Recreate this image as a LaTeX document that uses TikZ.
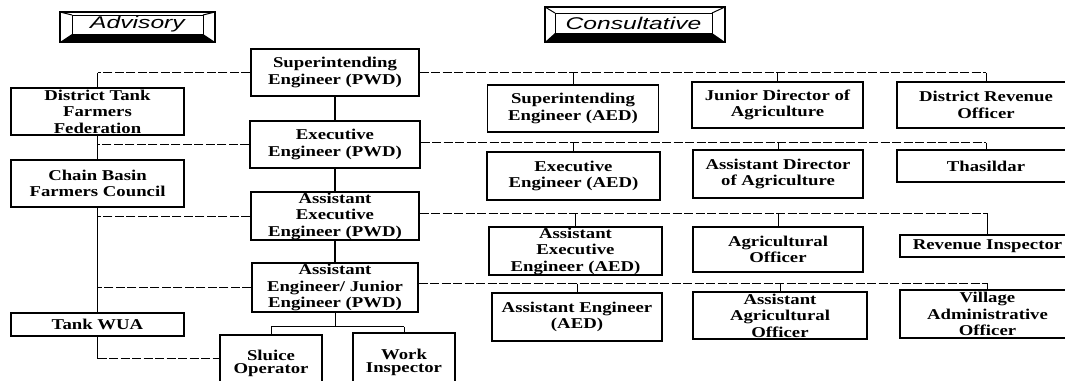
\documentclass[tikz,border=0pt]{standalone}
\usepackage{fontspec}
\newfontfamily\boxfont[FakeStretch=1.25]{Liberation Serif}
\newfontfamily\btnfont[FakeStretch=1.45]{Liberation Sans}
\begin{document}
\begin{tikzpicture}[x=1pt,y=-1pt,
  box/.style={draw, line width=1.2pt, align=center, inner sep=0pt,
    font=\boxfont\bfseries\fontsize{15}{16.5}\selectfont},
  rel/.style={line width=0.8pt, dash pattern=on 9pt off 2.5pt},
  chain/.style={line width=1.8pt},
  drop/.style={line width=1pt},
  btn/.style={inner sep=0pt, font=\btnfont\itshape\fontsize{17}{17}\selectfont},
  bevelout/.style={line width=2.2pt},
  bevelin/.style={line width=1pt}]
\clip (0,0) rectangle (1065,380);
\fill[white] (0,0) rectangle (1065,380);

% ---- Advisory button ----
\fill[black] (60,42) -- (72,34) -- (203,34) -- (215,42) -- cycle;
\draw[bevelin] (60,12) -- (72,15) (215,12) -- (203,15);
\draw[bevelout] (60,12) rectangle (215,42);
\draw[bevelin] (72,15) rectangle (203,34);
\node[btn] (advisory) at (137.5,24.5) {Advisory};

% ---- Consultative button ----
\fill[black] (545,42) -- (555,33) -- (712,33) -- (725,42) -- cycle;
\draw[bevelin] (545,7) -- (555,13) (725,7) -- (712,13);
\draw[bevelout] (545,7) rectangle (725,42);
\draw[bevelin] (555,13) rectangle (712,33);
\node[btn] (consultative) at (633.5,23) {Consultative};

% ---- PWD chain ----
\node[box, minimum width=168pt, minimum height=47pt] (spwd) at (335,72.5) {Superintending\\Engineer (PWD)};
\node[box, minimum width=170pt, minimum height=47pt] (epwd) at (335,144.5) {Executive\\Engineer (PWD)};
\node[box, minimum width=168pt, minimum height=48pt] (aepwd) at (335,216) {Assistant\\Executive\\Engineer (PWD)};
\node[box, minimum width=166pt, minimum height=49pt] (ajpwd) at (335,287.5) {Assistant\\Engineer/ Junior\\Engineer (PWD)};
\node[box, minimum width=102pt, minimum height=60pt] (sluice) at (271,365) {\raisebox{6pt}{\shortstack{Sluice\\Operator}}};
\node[box, minimum width=102pt, minimum height=62pt] (work) at (404,364) {\raisebox{6pt}{\shortstack{Work\\Inspector}}};

% ---- Advisory column ----
\node[box, minimum width=173pt, minimum height=47pt] (dtf) at (97.5,111.5) {District Tank\\Farmers\\Federation};
\node[box, minimum width=173pt, minimum height=47pt] (cbf) at (97.5,183.5) {Chain Basin\\Farmers Council};
\node[box, minimum width=173pt, minimum height=23pt] (wua) at (97.5,324.5) {Tank WUA};

% ---- Consultative columns ----
\node[box, minimum width=171pt, minimum height=47pt] (seaed) at (573,108.5) {Superintending\\Engineer (AED)};
\node[box, minimum width=171pt, minimum height=46pt] (jda) at (777.5,105) {Junior Director of\\Agriculture};
\node[box, minimum width=178pt, minimum height=46pt] (dro) at (986,105) {District Revenue\\Officer};

\node[box, minimum width=173pt, minimum height=48pt] (eeaed) at (573.5,176) {Executive\\Engineer (AED)};
\node[box, minimum width=170pt, minimum height=48pt] (ada) at (778,174) {Assistant Director\\of Agriculture};
\node[box, minimum width=178pt, minimum height=32pt] (tha) at (986,166) {Thasildar};

\node[box, minimum width=173pt, minimum height=48pt] (aeaed) at (575.5,251) {Assistant\\Executive\\Engineer (AED)};
\node[box, minimum width=170pt, minimum height=45pt] (ao) at (778,249.5) {Agricultural\\Officer};
\node[box, minimum width=175pt, minimum height=22pt] (ri) at (987.5,246) {Revenue Inspector};

\node[box, minimum width=170pt, minimum height=48pt] (aeng) at (577,317) {Assistant Engineer\\(AED)};
\node[box, minimum width=174pt, minimum height=47pt] (aao) at (780,315.5) {Assistant\\Agricultural\\Officer};
\node[box, minimum width=175pt, minimum height=48pt] (vao) at (987.5,314) {Village\\Administrative\\Officer};

% ---- solid hierarchy lines ----
\draw[chain] (spwd.south) -- (epwd.north);
\draw[chain] (epwd.south) -- (aepwd.north);
\draw[chain] (aepwd.south) -- (ajpwd.north);
\draw[drop] (ajpwd.south) -- ++(0,14) coordinate (br);
\draw[drop] (br -| sluice.north) -- (br -| work.north);
\draw[drop] (br -| sluice.north) -- (sluice.north);
\draw[drop] (br -| work.north) -- (work.north);

\draw[chain] (dtf.south) -- (cbf.north);
\draw[chain] (cbf.south) -- (wua.north);
\draw[chain] (wua.south) -- ++(0,22) coordinate (wb);
\draw[rel] (wb) -- (wb -| sluice.west);

% ---- advisory relations ----
\draw[rel] (spwd.west) -- (spwd.west -| dtf.north);
\draw[drop] (spwd.west -| dtf.north) -- (dtf.north);
\draw[rel] (epwd.west) -- (epwd.west -| dtf.south);
\draw[rel] (aepwd.west) -- (aepwd.west -| cbf.south);
\draw[rel] (ajpwd.west) -- (ajpwd.west -| cbf.south);

% ---- consultative relations ----
\draw[rel] (spwd.east) -- (spwd.east -| dro.north);
\draw[drop] (spwd.east -| seaed.north) -- (seaed.north);
\draw[drop] (spwd.east -| jda.north) -- (jda.north);
\draw[drop] (spwd.east -| dro.north) -- (dro.north);

\draw[rel] (epwd.east) ++(0,-2) coordinate (r2) -- (r2 -| tha.north);
\draw[drop] (r2 -| eeaed.north) -- (eeaed.north);
\draw[drop] (r2 -| ada.north) -- (ada.north);
\draw[drop] (r2 -| tha.north) -- (tha.north);

\draw[rel] (aepwd.east) ++(0,-3) coordinate (r3) -- (r3 -| ri.north);
\draw[drop] (r3 -| aeaed.north) -- (aeaed.north);
\draw[drop] (r3 -| ao.north) -- (ao.north);
\draw[drop] (r3 -| ri.north) -- (ri.north);

\draw[rel] (ajpwd.east) ++(0,-4) coordinate (r4) -- (r4 -| vao.north);
\draw[drop] (r4 -| aeng.north) -- (aeng.north);
\draw[drop] (r4 -| aao.north) -- (aao.north);
\draw[drop] (r4 -| vao.north) -- (vao.north);
\end{tikzpicture}
\end{document}
